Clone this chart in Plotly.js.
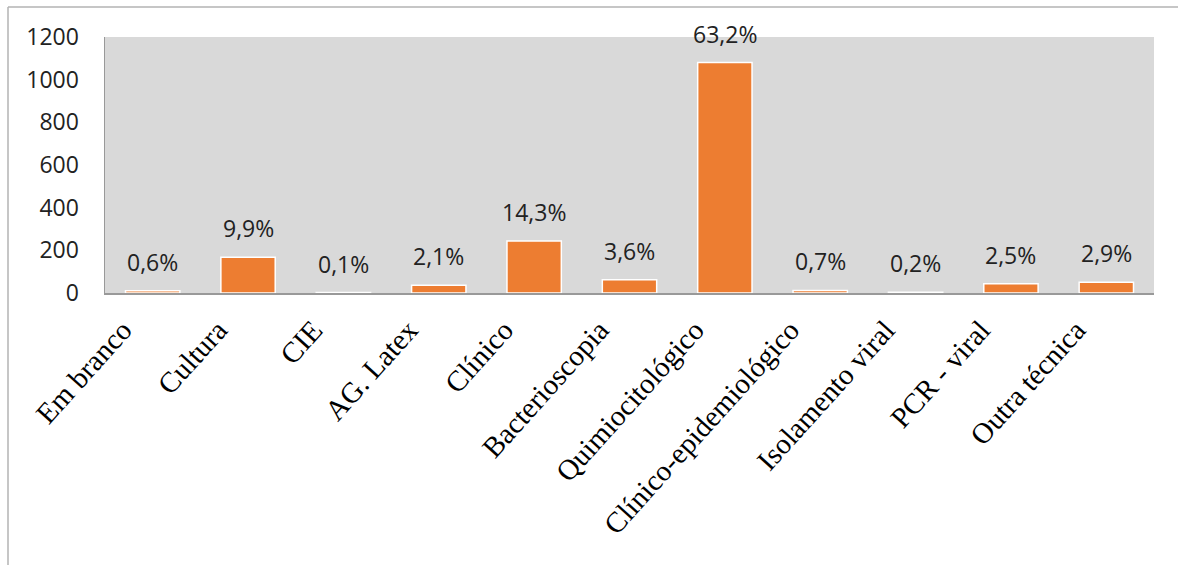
<!DOCTYPE html>
<html>
<head>
<meta charset="utf-8">
<script src="https://cdn.plot.ly/plotly-3.0.1.min.js"></script>
<style>html,body{margin:0;padding:0;background:#fff;}#chart{width:1178px;height:565px;}</style>
</head>
<body>
<div id="chart"></div>
<script>
const categories = ["Em branco","Cultura","CIE","AG. Latex","Clínico","Bacterioscopia","Quimiocitológico","Clínico-epidemiológico","Isolamento viral","PCR - viral","Outra técnica"];
const values = [10, 168, 2, 36, 244, 62, 1080, 12, 3, 43, 50];
const percentLabels = ["0,6%","9,9%","0,1%","2,1%","14,3%","3,6%","63,2%","0,7%","0,2%","2,5%","2,9%"];
const yTicks = [0, 200, 400, 600, 800, 1000, 1200];

const W = 1178, H = 565;
const mL = 105, mR = 24, mT = 37, mB = 272;
const pw = W - mL - mR, ph = H - mT - mB;
const px = v => (v - mL) / pw;
const py = v => (H - mB - v) / ph;

const trace = {
  type: 'bar',
  x: categories,
  y: values,
  marker: {color: '#ed7d31', line: {color: '#ffffff', width: 1.5}},
  hoverinfo: 'x+y'
};

const annotations = categories.map((c, i) => ({
  x: c, y: values[i], xref: 'x', yref: 'y',
  text: percentLabels[i], showarrow: false,
  yanchor: 'bottom', xanchor: 'center', yshift: 11,
  font: {family: 'Open Sans, sans-serif', size: 23, color: '#222'}
}));

const layout = {
  width: W, height: H,
  margin: {l: mL, r: mR, t: mT, b: mB, pad: 0},
  paper_bgcolor: '#ffffff',
  plot_bgcolor: '#d9d9d9',
  showlegend: false,
  bargap: 0.43,
  xaxis: {
    type: 'category',
    tickangle: -48,
    tickfont: {family: 'Liberation Serif, Times New Roman, serif', size: 29, color: '#000'},
    showline: true, linecolor: '#999999', linewidth: 1.5,
    ticks: '', showgrid: false, zeroline: false,
    automargin: false,
    ticklabelstandoff: 7,
    ticklabelshift: -30
  },
  yaxis: {
    range: [0, 1200],
    tickvals: yTicks,
    ticktext: yTicks.map(String),
    tickfont: {family: 'Open Sans, sans-serif', size: 23, color: '#222'},
    showline: true, linecolor: '#999999', linewidth: 1.5,
    ticks: '', showgrid: false, zeroline: false,
    automargin: false,
    ticklabelstandoff: 20
  },
  annotations: annotations,
  shapes: [
    {type: 'line', xref: 'paper', yref: 'paper', x0: px(8), x1: px(8), y0: py(7), y1: py(H + 5), line: {color: '#b3b3b3', width: 1.5}},
    {type: 'line', xref: 'paper', yref: 'paper', x0: px(8), x1: px(W + 5), y0: py(7), y1: py(7), line: {color: '#b3b3b3', width: 1.5}}
  ]
};

Plotly.newPlot('chart', [trace], layout, {displayModeBar: false, staticPlot: true});
</script>
</body>
</html>
